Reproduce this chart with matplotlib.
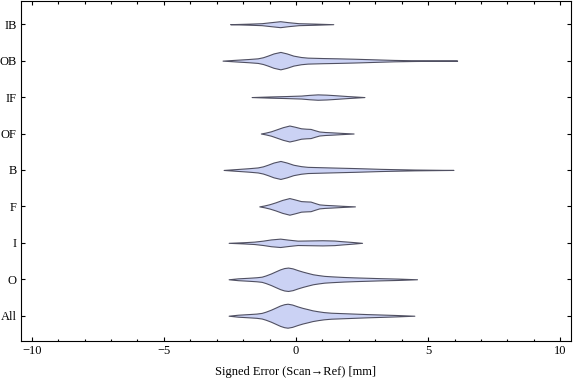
import matplotlib
matplotlib.use("Agg")
import matplotlib.pyplot as plt
from matplotlib.ticker import MultipleLocator

plt.rcParams['font.family'] = ['Liberation Serif', 'DejaVu Serif']

# categories, bottom to top
categories = ["All", "O", "I", "F", "B", "OF", "IF", "OB", "IB"]

# violin outlines: error value (mm) and half width (in category units)
x_all = [-2.55, -2.2, -1.8, -1.5, -1.3, -1.15, -0.95, -0.8, -0.6, -0.45, -0.32, -0.15, 0.06,
         0.25, 0.44, 0.62, 0.82, 1.05, 1.33, 1.8, 2.2, 2.7, 3.2, 3.8, 4.48]
w_all = [0, .027, .044, .058, .077, .11, .165, .214, .28, .315, .329, .307, .255,
         .214, .181, .148, .123, .099, .082, .069, .058, .044, .033, .019, 0]

x_o = [-2.55, -2.2, -1.8, -1.5, -1.3, -1.15, -0.95, -0.8, -0.6, -0.45, -0.3, -0.13, 0.08,
       0.27, 0.46, 0.64, 0.84, 1.07, 1.35, 1.8, 2.2, 2.7, 3.2, 3.85, 4.58]
w_o = [0, .025, .041, .055, .071, .104, .159, .208, .272, .307, .321, .299, .247,
       .206, .17, .137, .115, .093, .08, .063, .052, .041, .03, .019, 0]

x_i = [-2.55, -2.0, -1.58, -1.25, -0.95, -0.6, -0.3, 0.06, 0.57, 1.0, 1.45, 1.75, 1.96, 2.2, 2.5]
w_i = [0, .016, .033, .06, .093, .115, .088, .06, .066, .071, .063, .044, .033, .019, 0]

x_f = [-1.39, -1.2, -1.0, -0.78, -0.52, -0.25, -0.05, 0.19, 0.38, 0.55, 0.72, 0.88, 1.1, 1.33, 1.75, 2.23]
w_f = [0, .025, .06, .11, .178, .228, .192, .145, .137, .132, .091, .055, .041, .033, .016, 0]

x_b = [-2.74, -2.3, -1.8, -1.45, -1.25, -1.07, -0.85, -0.59, -0.35, -0.1, 0.19, 0.44,
       1.0, 1.58, 2.2, 2.71, 3.2, 3.72, 4.5, 5.96]
w_b = [0, .022, .047, .069, .099, .143, .203, .247, .203, .143, .104, .085,
       .074, .063, .052, .041, .03, .022, .011, 0]

x_of = [-1.33, -1.15, -0.95, -0.75, -0.5, -0.25, -0.05, 0.19, 0.38, 0.55, 0.72, 0.88, 1.1, 1.33, 1.75, 2.18]
w_of = [0, .025, .06, .11, .173, .219, .187, .143, .132, .126, .088, .055, .041, .033, .016, 0]

x_if = [-1.68, -1.0, -0.4, 0.2, 0.5, 0.82, 1.15, 1.4, 1.96, 2.59]
w_if = [0, .016, .027, .041, .06, .074, .066, .055, .027, 0]

x_ob = [-2.78, -2.3, -1.8, -1.45, -1.25, -1.07, -0.85, -0.59, -0.35, -0.1, 0.19, 0.44,
        1.0, 1.58, 2.2, 2.71, 3.2, 3.72, 4.5, 6.1]
w_ob = [0, .022, .044, .063, .093, .137, .197, .239, .197, .137, .099, .082,
        .071, .063, .052, .041, .03, .019, .01, 0]

x_ib = [-2.49, -1.8, -1.3, -0.95, -0.6, -0.3, 0.1, 0.7, 1.41]
w_ib = [0, .014, .027, .055, .082, .055, .027, .016, 0]

profiles = [(x_all, w_all), (x_o, w_o), (x_i, w_i), (x_f, w_f), (x_b, w_b),
            (x_of, w_of), (x_if, w_if), (x_ob, w_ob), (x_ib, w_ib)]

fig = plt.figure(figsize=(5.76, 3.81), dpi=100)
ax = fig.add_axes([20.7 / 576, 40 / 381, 550.6 / 576, 340.5 / 381])

for pos, (xs, ws) in enumerate(profiles, start=1):
    lo = [pos - w for w in ws]
    hi = [pos + w for w in ws]
    ax.fill_between(xs, lo, hi, facecolor='#cbd2f4', edgecolor='#505062', linewidth=0.8)

ax.set_xlim(-10.42, 10.42)
ax.set_ylim(0.306, 9.65)

ax.set_yticks(range(1, len(categories) + 1))
ax.set_yticklabels(categories)
ax.xaxis.set_major_locator(MultipleLocator(5))
ax.xaxis.set_minor_locator(MultipleLocator(1))

ax.tick_params(which='both', direction='in', top=True, right=True, width=0.8,
               labelsize=9, colors='black')
ax.tick_params(which='major', length=3.0, pad=3)
ax.tick_params(which='minor', length=1.8)
ax.tick_params(axis='y', which='minor', left=False, right=False)

for sp in ax.spines.values():
    sp.set_linewidth(0.8)

ax.set_xlabel("Signed Error (Scan→Ref) [mm]", fontsize=9, labelpad=6)

fig.savefig("out.png", dpi=100)
